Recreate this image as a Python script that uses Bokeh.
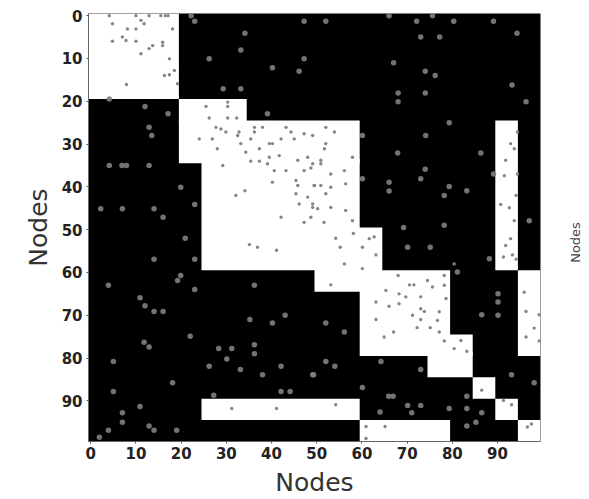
from bokeh.plotting import figure
from bokeh.models import FixedTicker, Label
from bokeh.embed import file_html
from bokeh.resources import INLINE
import math

# white regions of the adjacency matrix: column range, row range
white_left   = [0, 20, 20, 25, 59, 50, 60, 79, 75, 85, 90, 90, 25, 60, 95, 95]
white_right  = [20, 35, 60, 60, 65, 61, 80, 85, 85, 90, 95, 95, 60, 80, 100, 100]
white_top    = [0, 20, 25, 34, 50, 59, 60, 75, 79, 85, 25, 90, 90, 95, 60, 95]
white_bottom = [20, 26, 35, 60, 61, 65, 80, 80, 85, 90, 60, 95, 95, 100, 80, 100]

ticks = [0, 10, 20, 30, 40, 50, 60, 70, 80, 90]
tick_labels = ["0", "10", "20", "30", "40", "50", "60", "70", "80", "90"]

on_black = [
(22.7,.5),(23.5,1.8),(47.7,1.8),(34.6,4.6),(33.7,8.5),(26.7,10.6),(47.7,10.6),(40.7,12.7),(46.6,13.5),(29.8,17.6),(33.7,17.6),(39.6,23.4),
(4.6,20),(12.5,21.7),(17.6,23.4),(13.4,26.6),(14,28.5),(4.6,35.5),(7.4,35.5),(8.4,35.5),(13.4,35.5),(20.4,40.6),(23.5,44.6),(2.7,45.6),(7.5,45.6),(14.5,45.6),(16.5,47.6),
(52.5,1.8),(66.5,.5),(72.6,1.8),(76.1,.5),(80.8,1.8),(89.6,1.8),(94.8,4.6),(73.5,5.5),(77.7,5.5),(67.5,11.5),(74.5,13.5),(76.7,14.5),(68.5,18.6),(74.5,18.6),(68.5,20.6),(93.7,16.7),(96.8,20.6),(79.8,25.5),(74.6,28.5),(68.4,32.6),(86.8,32.6),(74.5,36.4),(73.5,38.6),(66.5,39.4),(66.5,41.5),(79.8,40.4),(78.7,42.5),(83.7,41.4),(97.5,48.4),(78.7,49.5),(69.7,50),(60.6,28.5),(60.6,38.6),(89.6,37.5),
(21.4,52.5),(14.5,57.4),(23.5,57.4),(19.7,62.4),(20.4,61.2),(4.4,63.5),(23.5,64.5),(36.7,63.5),(11.4,66.4),(12.5,68.3),(14.5,69.6),(16.5,69.6),(35.7,71.5),(40.7,72.3),(43.5,70.5),(22.5,75.4),(12.3,76.8),(13.4,77.9),(28.8,78.3),(31.7,78.3),(36.7,77.4),(36.7,79.5),(30.6,80.7),(5.5,81.3),(26.7,82.4),(33.6,83.2),(42.6,82.4),(38.5,84.4),(49.6,84.4),(18.6,86.3),(5.5,88.3),(42.6,88.3),(44.6,88.3),(27.7,89.2),(11.4,91.8),(7.5,93.3),(7.5,95.5),(13.4,96.4),(14.5,97.4),(4.4,97.4),(19.5,97.4),(2.4,99),
(52.5,72.3),(56.6,74.4),(70.6,54.6),(75.6,54.6),(88.7,57.3),(52.5,81.3),(54.5,82.4),(49.8,84.4),(60.6,87.4),(64.7,81.3),(73.5,83.2),(66.4,89.4),(67.4,89.4),(70.6,91.6),(73.5,91.6),(64.5,93.1),(71.5,93.3),(79.8,92.3),(83.7,89.4),(83.7,92.3),(87,93.3),(85.7,95.5),(83.7,96.4),(81.6,60.4),(87,70.4),(90.6,65.5),(90.6,67.4),(90.6,70.5),(93.6,84.4),(98.6,86.3),
]
on_black_x = [d[0] for d in on_black]
on_black_y = [d[1] for d in on_black]

on_white = [
(4.6,.5),(5.3,2.4),(10.5,.5),(11.6,1.6),(12.3,2.4),(13.4,.5),(16,.5),(17,.5),(17.6,.5),(8.6,3.6),(10.5,3.6),(18.6,3.6),(5.3,6.5),(7.5,5.5),(8.3,6.3),(10.5,6.5),(16.4,6.7),(16.4,7.5),(14.2,7.5),(13.4,8.2),(11.6,9.4),(17.9,10.6),(19,13.3),(16.8,14.5),(17.9,14.3),(8.4,16.6),(19.7,16.4),
(26,21.7),(30.8,20.7),(30.8,21.7),(26.7,24.4),(30.8,24.4),(32.8,24.4),(28.2,26.6),(29.3,27),(30.4,27.7),(33.3,27.7),(33,28.5),(36.7,26.6),(36.7,27.7),(38.5,26.6),(35.9,29.3),(43.7,26.6),(44.8,27.7),(42.6,29.3),(45.5,29.3),(47.7,28.1),(49.6,28.5),(24.5,29.3),(27.4,29.3),(28.5,31.6),(33.7,30.4),(34.8,32.4),(37.8,31.6),(40,30.4),(40.7,30.4),(40,33.6),(42.2,33.2),(35.9,34.5),(37.8,34.5),(29.7,35.5),(39.6,35.1),(41.1,36.7),(43.7,36.7),(46.3,34.3),(49.6,35.1),(48.5,33.6),(51.4,34.3),(47.7,36.7),(45.9,39),(46.3,40.2),(40.7,39.4),(50,40.2),(51.4,40.2),(45.9,42.1),(48.5,42.9),(49.6,44.5),(50.7,45.6),(46.6,44.5),(42.6,47.6),(49.2,47.6),(47.7,48.8),(32.6,42.5),(34.6,41.4),
(94.9,27.7),(93.4,30.4),(94.2,31.6),(92.3,34.3),(94.9,37.5),(92,37.9),(94.6,42.5),(91.2,44.6),(93.1,45.4),(94.2,48.4),(93.4,52.6),(92.3,54.2),(91.8,56.9),(93.8,56.4),(94.6,57.4),
(52.5,26.6),(54.4,27.7),(52.5,30.4),(52.2,31.6),(58.4,33.6),(49.2,36.1),(51.4,35.1),(53.6,37.5),(56.6,36.7),(56.9,39.8),(53.6,40.6),(49.9,40.2),(52.5,42.1),(49.6,45.3),(53.6,45.3),(56.9,46),(58.4,48.4),(52.1,48.8),
(31.7,92.3),(41.6,92.3),(35.6,54),(37.4,54.6),(41.6,55.3),
(87,88),(54.7,52.5),(55.7,54.6),(58.6,51.4),(60.6,54.6),(62.1,52.6),(63.2,52.2),(63.6,56.4),(56.6,58.5),(60.6,59.6),(53.6,63.4),(54.7,91.4),
(80.9,58.5),(68.5,61.2),(71,63.4),(72,63.4),(75,62.4),(76.1,63.9),(78.7,61.2),(78.7,63.5),(65.8,64.7),(68.7,65.5),(70.2,66.2),(73.5,66.2),(79.1,66.6),(63.6,67.4),(66.5,68.4),(68.7,67.8),(73.5,69),(74.3,69.6),(77.6,69.7),(71.7,70.5),(73.5,71.5),(63.6,71.5),(77.2,71.7),(72.7,73.4),(75.6,73.4),(77.6,74.4),(67.5,74.4),(65.4,75.6),(78.7,76.5),(82.4,76.4),(80.9,78.3),(83.7,78.9),(96.4,65.1),(96.8,69.6),(99.7,70.4),(98.6,73.5),(96.8,75.6),(99.7,76.5),(61.4,96.5),(65.6,96.5),(61.4,99.3),(97.1,96.6),(98,95.9),(91.8,90.4),(93.6,91.4),
]
on_white_x = [d[0] for d in on_white]
on_white_y = [d[1] for d in on_white]

p = figure(width=589, height=499, x_range=(0, 100), y_range=(100, 0),
           output_backend="svg", toolbar_location=None,
           min_border_left=88, min_border_right=49, min_border_top=13, min_border_bottom=58)
p.grid.visible = False
p.outline_line_color = None
p.background_fill_color = "#000000"

p.quad(left=white_left, right=white_right, top=white_top, bottom=white_bottom,
       fill_color="#ffffff", line_color=None)
p.scatter(on_black_x, on_black_y, size=5.5, marker="circle", fill_color="#808080", fill_alpha=0.9, line_color=None)
p.scatter(on_white_x, on_white_y, size=3.4, marker="circle", fill_color="#858585", line_color=None)

tick_pos = [t + 0.5 for t in ticks]
for ax in (p.xaxis[0], p.yaxis[0]):
    ax.ticker = FixedTicker(ticks=tick_pos)
    ax.major_label_overrides = dict(zip(tick_pos, tick_labels))
    ax.major_label_text_font = "DejaVu Sans"
    ax.major_label_text_font_style = "bold"
    ax.major_label_text_font_size = "15px"
    ax.major_label_text_color = "#222222"
    ax.minor_tick_line_color = None
    ax.major_tick_in = 0
    ax.major_tick_out = 2
    ax.major_tick_line_color = "#555555"
    ax.axis_line_color = "#666666"
    ax.axis_label = "Nodes"
    ax.axis_label_text_font = "DejaVu Sans"
    ax.axis_label_text_font_style = "normal"
    ax.axis_label_text_font_size = "25px"
    ax.axis_label_text_color = "#333333"
p.xaxis[0].major_label_standoff = 3
p.yaxis[0].major_label_standoff = 4
p.xaxis[0].axis_label_standoff = 6
p.yaxis[0].axis_label_standoff = 6

right_label = Label(x=107.8, y=53.5, text="Nodes", angle=math.pi / 2, text_align="center",
                    text_baseline="middle", text_font="DejaVu Sans", text_font_size="13px",
                    text_color="#444444")
p.add_layout(right_label, "right")

open("out.html", "w").write(file_html(p, INLINE))
